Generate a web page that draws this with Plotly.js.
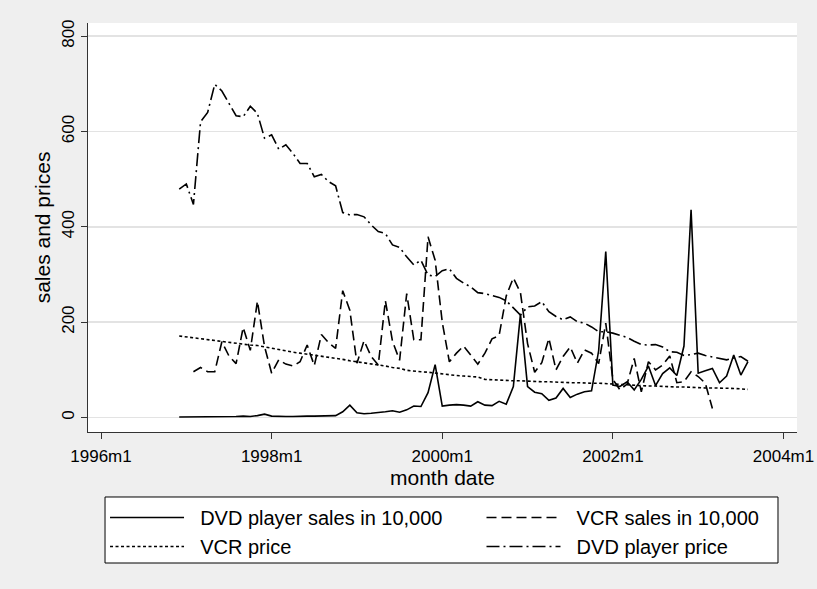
<!DOCTYPE html>
<html><head><meta charset="utf-8">
<script src="https://cdn.plot.ly/plotly-3.0.1.min.js"></script>
<style>html,body{margin:0;padding:0;background:#efefef}</style>
</head><body><div id="chart" style="width:817px;height:589px"></div>
<script>
// Stata monthly units: 1996m1 = 432
const dvdFirstMonth = 443;      // 1996m12
const vcrSalesFirstMonth = 445; // 1997m2

const dvdSales = [
  1,1,2,2,2,2,2,2,2,3,
  2,4,7,3,2,2,2,3,3,3,
  3,4,4,12,26,10,8,9,10,12,
  14,11,16,24,23,52,111,24,26,27,
  26,24,33,26,25,34,28,65,217,65,
  53,50,36,41,61,42,49,54,56,140,
  348,68,65,75,58,80,108,67,92,104,
  88,150,436,93,98,103,73,87,131,89,
  117
];
const vcrSales = [
  96,105,96,96,159,129,113,189,
  141,244,149,93,121,112,108,117,152,109,
  174,157,145,266,225,114,161,128,110,245,
  160,120,260,163,163,379,330,200,117,135,
  150,130,112,135,165,172,255,293,262,155,
  95,115,166,100,128,148,114,142,135,113,
  198,80,58,70,124,54,117,100,110,129,
  73,75,96,86,72,19
];
const vcrPrice = [
  171,169,167,165,164,162,160,158,156,154,
  152,151,148,146,143,139,137,135,133,131,
  129,127,125,122,119,117,115,113,111,108,
  105,103,99,97,96,95,93,92,90,88,
  87,86,85,80,79,78,78,77,77,76,
  76,75,75,74,74,73,73,72,72,72,
  71,70,70,69,68,67,66,66,65,65,
  64,64,63,63,62,62,62,61,61,60,
  59
];
const dvdPrice = [
  479,490,447,620,640,699,685,660,633,631,
  653,638,586,593,563,572,554,533,533,505,
  510,495,486,430,425,426,421,404,390,386,
  362,357,337,320,330,299,296,308,312,292,
  282,274,262,260,256,252,245,229,215,232,
  234,243,222,212,205,211,201,198,190,180,
  180,177,173,168,160,153,152,153,148,138,
  137,130,132,135,130,127,124,121,125,128,
  118
];
const seriesNames = ['DVD player sales in 10,000','VCR sales in 10,000','VCR price','DVD player price'];
const xTickVals = [432,456,480,504,528];
const xTickText = ['1996m1','1998m1','2000m1','2002m1','2004m1'];
const yTickVals = [0,200,400,600,800];

function months(first, n){ const a=[]; for(let i=0;i<n;i++) a.push(first+i); return a; }
const NB = '\u00a0';
function legendLabel(s){ return NB + NB + s; }

const FONT = 'Liberation Sans, Arial, Helvetica, sans-serif';
const lw = 1.6;
const traces = [
  {x: months(dvdFirstMonth, dvdSales.length), y: dvdSales, name: legendLabel(seriesNames[0]), legend: 'legend', mode:'lines', line:{color:'#000', width:lw, dash:'solid'}},
  {x: months(vcrSalesFirstMonth, vcrSales.length), y: vcrSales, name: legendLabel(seriesNames[1]), legend: 'legend2', mode:'lines', line:{color:'#000', width:lw, dash:'10px,5px'}},
  {x: months(dvdFirstMonth, vcrPrice.length), y: vcrPrice, name: legendLabel(seriesNames[2]), legend: 'legend', mode:'lines', line:{color:'#000', width:lw, dash:'3px,2.5px'}},
  {x: months(dvdFirstMonth, dvdPrice.length), y: dvdPrice, name: legendLabel(seriesNames[3]), legend: 'legend2', mode:'lines', line:{color:'#000', width:lw, dash:'13px,4px,2px,4px'}}
];

const legendCommon = {
  orientation: 'v', yanchor: 'top', xanchor: 'left', y: -0.1613,
  bgcolor: 'rgba(0,0,0,0)', borderwidth: 0,
  itemwidth: 74, font: {size: 20}, traceorder: 'normal'
};

const layout = {
  width: 817, height: 589,
  paper_bgcolor: '#efefef', plot_bgcolor: '#ffffff',
  margin: {l: 88, r: 20, t: 23, b: 157, pad: 0},
  font: {family: FONT, size: 17, color: '#000'},
  showlegend: true,
  xaxis: {
    range: [430.17, 529.9], tickmode: 'array', tickvals: xTickVals, ticktext: xTickText,
    ticks: 'outside', ticklen: 6, tickcolor: '#333', tickwidth: 1, ticklabelstandoff: 3,
    showline: true, linecolor: '#333', linewidth: 1, showgrid: false, zeroline: false,
    tickfont: {size: 17},
    title: {text: 'month date', font: {size: 21}, standoff: 3}
  },
  yaxis: {
    range: [-30.4, 827.6], tickmode: 'array', tickvals: yTickVals, tickangle: -90,
    ticks: 'outside', ticklen: 6, tickcolor: '#333', tickwidth: 1,
    showline: true, linecolor: '#333', linewidth: 1,
    showgrid: true, gridcolor: '#e3e3e3', gridwidth: 1.5, zeroline: false,
    tickfont: {size: 17},
    title: {text: 'sales and prices', font: {size: 21}, standoff: 2}
  },
  legend: Object.assign({}, legendCommon, {x: 0.024}),
  legend2: Object.assign({}, legendCommon, {x: 0.555}),
  shapes: [{
    type: 'rect', xref: 'paper', yref: 'paper',
    x0: 0.024, x1: 0.9732, y0: -0.3203, y1: -0.1589,
    fillcolor: '#ffffff', line: {color: '#000', width: 1}, layer: 'above'
  }]
};
Plotly.newPlot('chart', traces, layout, {staticPlot: true});
</script></body></html>
